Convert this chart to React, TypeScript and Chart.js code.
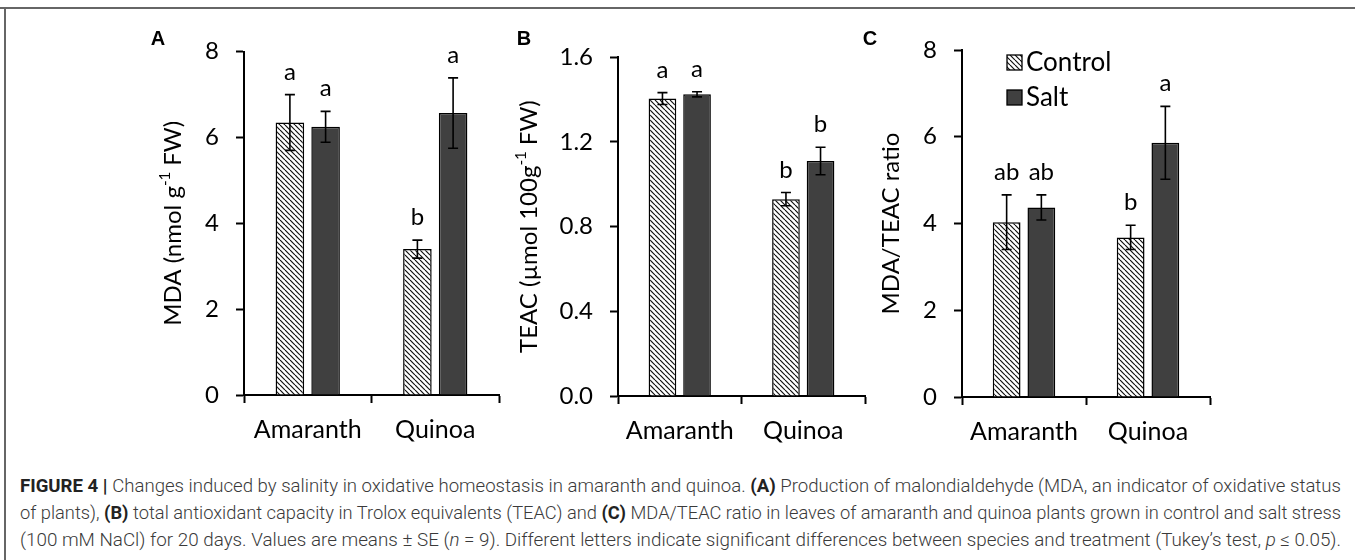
import React, { useEffect, useLayoutEffect, useRef } from 'react';
import { Chart, registerables } from 'chart.js';

Chart.register(...registerables);

// ---------- data ----------
const categories = ['Amaranth', 'Quinoa'];
const seriesLabels = ['Control', 'Salt'];

// Panel A: MDA (nmol g-1 FW)
const mdaControl = [6.35, 3.4];
const mdaControlSE = [0.65, 0.21];
const mdaSalt = [6.25, 6.57];
const mdaSaltSE = [0.36, 0.82];
const mdaControlLetters = ['a', 'b'];
const mdaSaltLetters = ['a', 'a'];
const mdaTicks = [0, 2, 4, 6, 8];

// Panel B: TEAC (umol 100g-1 FW)
const teacControl = [1.405, 0.93];
const teacControlSE = [0.028, 0.031];
const teacSalt = [1.425, 1.11];
const teacSaltSE = [0.012, 0.065];
const teacControlLetters = ['a', 'b'];
const teacSaltLetters = ['a', 'b'];
const teacTicks = [0, 0.4, 0.8, 1.2, 1.6];

// Panel C: MDA/TEAC ratio
const ratioControl = [4.03, 3.68];
const ratioControlSE = [0.63, 0.28];
const ratioSalt = [4.37, 5.86];
const ratioSaltSE = [0.29, 0.84];
const ratioControlLetters = ['ab', 'b'];
const ratioSaltLetters = ['ab', 'a'];
const ratioTicks = [0, 2, 4, 6, 8];

const captionLines: [string, string][][] = [
  [
    ['FIGURE 4 | ', 'b'],
    ['Changes induced by salinity in oxidative homeostasis in amaranth and quinoa. ', ''],
    ['(A)', 'b'],
    [' Production of malondialdehyde (MDA, an indicator of oxidative status', ''],
  ],
  [
    ['of plants), ', ''],
    ['(B)', 'b'],
    [' total antioxidant capacity in Trolox equivalents (TEAC) and ', ''],
    ['(C)', 'b'],
    [' MDA/TEAC ratio in leaves of amaranth and quinoa plants grown in control and salt stress', ''],
  ],
  [
    ['(100 mM NaCl) for 20 days. Values are means \u00b1 SE (', ''],
    ['n', 'i'],
    [' = 9). Different letters indicate significant differences between species and treatment (Tukey\u2019s test, ', ''],
    ['p', 'i'],
    [' \u2264 0.05).', ''],
  ],
];

// ---------- layout ----------
const FONT = 'Lato';

type Panel = {
  label: string;
  left: number;
  width: number;
  height: number;
  padTop: number;
  padRight: number;
  yWidth: number;
  xHeight: number;
  ticks: number[];
  decimals: number;
  control: number[];
  controlSE: number[];
  salt: number[];
  saltSE: number[];
  cLetters: string[];
  sLetters: string[];
  title: [string, boolean][];
  titleDx: number;
  labelDx: number;
  legend: boolean;
};

const panels: Panel[] = [
  {
    label: 'A', left: 130, width: 380, height: 460, padTop: 51.7, padRight: 11, yWidth: 114, xHeight: 65,
    ticks: mdaTicks, decimals: 0,
    control: mdaControl, controlSE: mdaControlSE, salt: mdaSalt, saltSE: mdaSaltSE,
    cLetters: mdaControlLetters, sLetters: mdaSaltLetters,
    title: [['MDA (nmol g', false], ['-1', true], [' FW)', false]],
    titleDx: -71, labelDx: -86, legend: false,
  },
  {
    label: 'B', left: 500, width: 375, height: 460, padTop: 57.3, padRight: 10, yWidth: 118, xHeight: 64,
    ticks: teacTicks, decimals: 1,
    control: teacControl, controlSE: teacControlSE, salt: teacSalt, saltSE: teacSaltSE,
    cLetters: teacControlLetters, sLetters: teacSaltLetters,
    title: [['TEAC (\u00b5mol 100g', false], ['-1', true], [' FW)', false]],
    titleDx: -89, labelDx: -94, legend: false,
  },
  {
    label: 'C', left: 850, width: 400, height: 460, padTop: 50, padRight: 40, yWidth: 112, xHeight: 63,
    ticks: ratioTicks, decimals: 0,
    control: ratioControl, controlSE: ratioControlSE, salt: ratioSalt, saltSE: ratioSaltSE,
    cLetters: ratioControlLetters, sLetters: ratioSaltLetters,
    title: [['MDA/TEAC ratio', false]],
    titleDx: -71, labelDx: -92, legend: true,
  },
];

function makeHatch(): CanvasPattern | string {
  const s = 5;
  const c = document.createElement('canvas');
  c.width = s;
  c.height = s;
  const g = c.getContext('2d');
  if (!g) return '#fff';
  g.fillStyle = '#fff';
  g.fillRect(0, 0, s, s);
  g.strokeStyle = '#111';
  g.lineWidth = 1.2;
  for (const x0 of [-s, 0, s]) {
    g.beginPath();
    g.moveTo(x0, 0);
    g.lineTo(x0 + s, s);
    g.stroke();
  }
  return g.createPattern(c, 'repeat') || '#fff';
}

function drawRotatedTitle(ctx: CanvasRenderingContext2D, parts: [string, boolean][], cx: number, cy: number, size: number) {
  ctx.save();
  ctx.translate(cx, cy);
  ctx.rotate(-Math.PI / 2);
  const norm = `${size}px ${FONT}`;
  const sup = `${Math.round(size * 0.62)}px ${FONT}`;
  const widths = parts.map(([t, s]) => {
    ctx.font = s ? sup : norm;
    return ctx.measureText(t).width;
  });
  const total = widths.reduce((a, b) => a + b, 0);
  let x = -total / 2;
  ctx.fillStyle = '#000';
  ctx.textBaseline = 'middle';
  ctx.textAlign = 'left';
  parts.forEach(([t, s], i) => {
    ctx.font = s ? sup : norm;
    ctx.fillText(t, x, s ? -size * 0.33 : 0);
    x += widths[i];
  });
  ctx.restore();
}

function PanelChart({ p }: { p: Panel }) {
  const ref = useRef<HTMLCanvasElement>(null);
  useEffect(() => {
    const canvas = ref.current;
    if (!canvas) return;
    const hatch = makeHatch();
    const overlay = {
      id: 'overlay' + p.label,
      afterDatasetsDraw(chart: any) {
        const ctx: CanvasRenderingContext2D = chart.ctx;
        const y = chart.scales.y;
        const sets: [number[], number[], string[]][] = [
          [p.control, p.controlSE, p.cLetters],
          [p.salt, p.saltSE, p.sLetters],
        ];
        sets.forEach(([vals, ses, lets], di) => {
          chart.getDatasetMeta(di).data.forEach((bar: any, i: number) => {
            const top = y.getPixelForValue(vals[i] + ses[i]);
            const bot = y.getPixelForValue(vals[i] - ses[i]);
            ctx.save();
            ctx.strokeStyle = '#000';
            ctx.lineWidth = 1.6;
            ctx.beginPath();
            ctx.moveTo(bar.x, top);
            ctx.lineTo(bar.x, bot);
            ctx.moveTo(bar.x - 5, top);
            ctx.lineTo(bar.x + 5, top);
            ctx.moveTo(bar.x - 5, bot);
            ctx.lineTo(bar.x + 5, bot);
            ctx.stroke();
            ctx.font = `24px ${FONT}`;
            ctx.fillStyle = '#000';
            ctx.textAlign = 'center';
            ctx.textBaseline = 'alphabetic';
            ctx.fillText(lets[i], bar.x, top - 15);
            ctx.restore();
          });
        });
      },
      afterDraw(chart: any) {
        const ctx: CanvasRenderingContext2D = chart.ctx;
        const a = chart.chartArea;
        drawRotatedTitle(ctx, p.title, a.left + p.titleDx, (a.top + a.bottom) / 2, 24);
        ctx.save();
        ctx.font = 'bold 20px "Liberation Sans", Arial, sans-serif';
        ctx.fillStyle = '#000';
        ctx.textAlign = 'center';
        ctx.textBaseline = 'middle';
        ctx.fillText(p.label, a.left + p.labelDx, 39);
        ctx.restore();
        if (p.legend) {
          ctx.save();
          const lx = a.left + 45;
          const rows: [string, any, number][] = [
            [seriesLabels[0], hatch, 55],
            [seriesLabels[1], '#404040', 90],
          ];
          rows.forEach(([txt, fill, ty]) => {
            ctx.fillStyle = fill;
            ctx.fillRect(lx, ty, 15, 15);
            ctx.strokeStyle = '#000';
            ctx.lineWidth = 1.3;
            ctx.strokeRect(lx, ty, 15, 15);
            ctx.fillStyle = '#000';
            ctx.font = `26px ${FONT}`;
            ctx.textAlign = 'left';
            ctx.textBaseline = 'middle';
            ctx.fillText(txt, lx + 19, ty + 8);
          });
          ctx.restore();
        }
      },
    };

    const chart = new Chart(canvas, {
      type: 'bar',
      data: {
        labels: categories,
        datasets: [
          {
            label: seriesLabels[0],
            data: p.control,
            backgroundColor: hatch as any,
            borderColor: '#000',
            borderWidth: 1.5,
            categoryPercentage: 0.56,
            barPercentage: 0.8,
          },
          {
            label: seriesLabels[1],
            data: p.salt,
            backgroundColor: '#404040',
            borderColor: '#000',
            borderWidth: 1.5,
            categoryPercentage: 0.56,
            barPercentage: 0.8,
          },
        ],
      },
      options: {
        animation: false,
        responsive: false,
        maintainAspectRatio: false,
        devicePixelRatio: 1,
        layout: { padding: { left: 0, top: p.padTop, right: p.padRight, bottom: 0 } },
        plugins: { legend: { display: false }, tooltip: { enabled: false } },
        scales: {
          x: {
            offset: true,
            ticks: { font: { family: FONT, size: 25 }, color: '#000', padding: 12 },
            grid: { offset: true, drawOnChartArea: false, drawTicks: true, tickLength: 8, tickColor: '#000', tickWidth: 2 },
            border: { display: true, color: '#000', width: 2 },
            afterFit: (s: any) => { s.height = p.xHeight; },
          },
          y: {
            min: p.ticks[0],
            max: p.ticks[p.ticks.length - 1],
            afterBuildTicks: (s: any) => { s.ticks = p.ticks.map((v) => ({ value: v })); },
            ticks: {
              font: { family: FONT, size: 24 },
              color: '#000',
              padding: 17,
              callback: (v: any) => Number(v).toFixed(p.decimals),
            },
            grid: { drawOnChartArea: false, drawTicks: true, tickLength: 8, tickColor: '#000', tickWidth: 2 },
            border: { display: true, color: '#000', width: 2 },
            afterFit: (s: any) => { s.width = p.yWidth; },
          },
        },
      },
      plugins: [overlay],
    } as any);
    return () => chart.destroy();
  }, [p]);
  return (
    <canvas
      ref={ref}
      width={p.width}
      height={p.height}
      style={{ position: 'absolute', left: p.left, top: 0, width: p.width, height: p.height }}
    />
  );
}

function CaptionLine({ segs, top }: { segs: [string, string][]; top: number }) {
  const ref = useRef<HTMLSpanElement>(null);
  useLayoutEffect(() => {
    const el = ref.current;
    if (!el) return;
    el.style.transform = 'none';
    const w = el.getBoundingClientRect().width;
    if (w > 0) el.style.transform = `scaleX(${1321 / w})`;
  }, []);
  return (
    <div style={{ position: 'absolute', left: 20, top, height: 27, lineHeight: '27px', whiteSpace: 'nowrap' }}>
      <span
        ref={ref}
        style={{
          display: 'inline-block',
          transformOrigin: 'left center',
          fontFamily: 'Roboto, "Liberation Sans", sans-serif',
          fontSize: 18,
          fontWeight: 300,
          color: '#3a3a3a',
        }}
      >
        {segs.map(([t, s], i) => (
          <span
            key={i}
            style={{
              fontWeight: s === 'b' ? 700 : 300,
              fontStyle: s === 'i' ? 'italic' : 'normal',
              color: s === 'b' ? '#222' : undefined,
            }}
          >
            {t}
          </span>
        ))}
      </span>
    </div>
  );
}

export default function App() {
  return (
    <div style={{ position: 'absolute', left: 0, top: 0, width: 1355, height: 560, background: '#fff', overflow: 'hidden' }}>
      <div style={{ position: 'absolute', left: 0, top: 7, width: 1355, height: 2, background: '#666' }} />
      <div style={{ position: 'absolute', left: 4, top: 8, width: 2, height: 552, background: '#666' }} />
      {panels.map((p) => (
        <PanelChart key={p.label} p={p} />
      ))}
      {captionLines.map((segs, i) => (
        <CaptionLine key={i} segs={segs} top={472 + i * 27} />
      ))}
    </div>
  );
}
